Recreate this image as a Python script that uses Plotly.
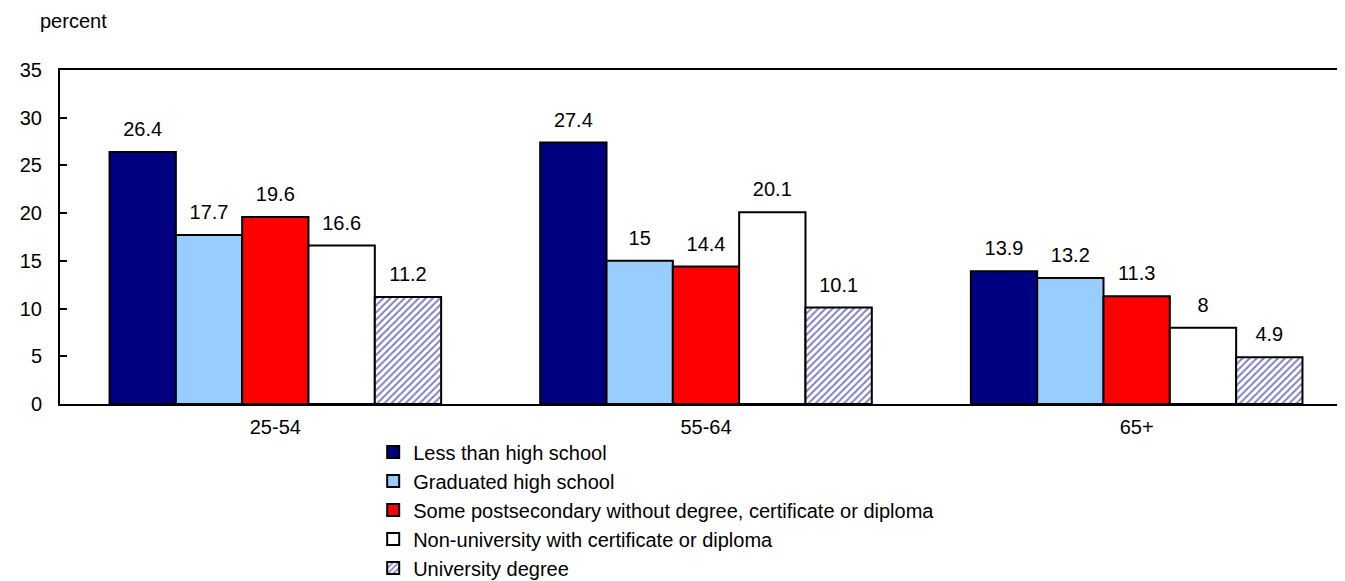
import plotly.graph_objects as go

categories = ["25-54", "55-64", "65+"]
series_names = [
    "Less than high school",
    "Graduated high school",
    "Some postsecondary without degree, certificate or diploma",
    "Non-university with certificate or diploma",
    "University degree",
]
less_than_hs = [26.4, 27.4, 13.9]
graduated_hs = [17.7, 15, 13.2]
some_postsec = [19.6, 14.4, 11.3]
non_university = [16.6, 20.1, 8]
university = [11.2, 10.1, 4.9]
y_ticks = [0, 5, 10, 15, 20, 25, 30, 35]

values = [less_than_hs, graduated_hs, some_postsec, non_university, university]
colors = ["#000080", "#99CCFF", "#FF0000", "#FFFFFF", "#FFFFFF"]

FONT = "Liberation Sans, Arial, sans-serif"
GAP = 0.23

fig = go.Figure()
for i, (name, vals, col) in enumerate(zip(series_names, values, colors)):
    marker = dict(color=col, line=dict(color="black", width=2))
    if i == 4:
        marker["pattern"] = dict(shape="/", fgcolor="#000080", bgcolor="#FFFFFF",
                                 size=5, solidity=0.4)
    fig.add_trace(go.Bar(name=name, x=categories, y=vals, marker=marker,
                         hoverinfo="skip"))

# value labels, aligned with the grouped bars
for i, (name, vals) in enumerate(zip(series_names, values)):
    fig.add_trace(go.Scatter(
        x=categories, y=vals, mode="markers+text", orientation="v",
        text=[f"{v:g}" for v in vals], textposition="top center",
        textfont=dict(size=20, color="black", family=FONT),
        marker=dict(size=16, opacity=0, color="white"),
        showlegend=False, hoverinfo="skip", cliponaxis=False,
    ))

fig.update_layout(
    width=1345, height=581,
    paper_bgcolor="white", plot_bgcolor="white",
    font=dict(family=FONT, size=20, color="black"),
    margin=dict(l=52, r=1, t=62, b=185, autoexpand=False),
    barmode="group", bargap=GAP, bargroupgap=0,
    scattermode="group", scattergap=GAP,
    showlegend=True,
    legend=dict(orientation="v", x=0.2424, xanchor="left", y=-0.0853, yanchor="top",
                font=dict(size=20), traceorder="normal", itemwidth=30,
                bgcolor="rgba(0,0,0,0)", borderwidth=0),
    annotations=[dict(text="percent", xref="paper", yref="paper", x=-0.017, y=1.1467,
                      xanchor="left", yanchor="middle", showarrow=False,
                      font=dict(size=20))],
)
fig.update_yaxes(range=[0, 35], tickvals=y_ticks, ticks="inside", ticklen=7,
                 tickwidth=2, tickcolor="black", showgrid=False, zeroline=False,
                 showline=True, linecolor="black", linewidth=2, mirror=True,
                 automargin=False, ticklabelstandoff=12)
fig.update_xaxes(showgrid=False, ticks="", showline=True, linecolor="black",
                 linewidth=2, mirror=True, automargin=False, ticklabelstandoff=4)

fig.write_html("out.html")
